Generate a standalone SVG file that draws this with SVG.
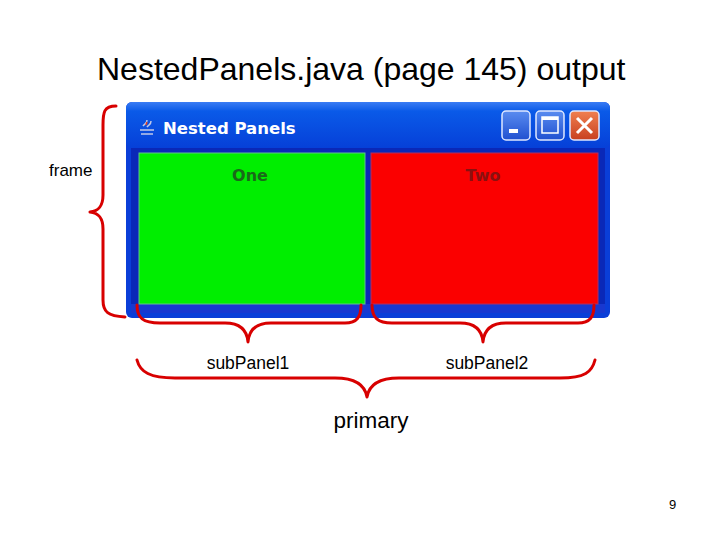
<svg xmlns="http://www.w3.org/2000/svg" width="720" height="540" viewBox="0 0 720 540">
<style>
.lbl{font-family:"Liberation Sans",Arial,sans-serif;fill:#000}
.brace{fill:none;stroke:#d80000;stroke-width:3;stroke-linecap:round;stroke-linejoin:round}
.btn{stroke:#dfe8ff;stroke-width:1.5}
</style>
<defs>
<linearGradient id="tb" x1="0" y1="0" x2="0" y2="1">
<stop offset="0" stop-color="#3a7cf4"/>
<stop offset="0.2" stop-color="#0a5ae8"/>
<stop offset="1" stop-color="#0640d8"/>
</linearGradient>
<linearGradient id="bb" x1="0" y1="0" x2="0" y2="1">
<stop offset="0" stop-color="#5a8cf0"/>
<stop offset="1" stop-color="#2050d0"/>
</linearGradient>
<linearGradient id="cb" x1="0" y1="0" x2="0" y2="1">
<stop offset="0" stop-color="#f08050"/>
<stop offset="1" stop-color="#c84020"/>
</linearGradient>
</defs>
<rect width="720" height="540" fill="#fff"/>
<text class="lbl" x="97" y="80" font-size="32">NestedPanels.java (page 145) output</text>
<g id="window">
<rect x="126" y="102" width="484" height="216" rx="6" fill="#0a3ed8"/>
<rect x="126" y="102" width="484" height="46" rx="6" fill="url(#tb)"/>
<rect x="131" y="148" width="474" height="165" fill="#0a28b8"/>
<rect x="131" y="304" width="474" height="9" fill="#1838d0"/>
<g id="javaicon" stroke="#c0c8e8" stroke-width="1.5" fill="none">
<path d="M140,130 h14 M141,134 h12 M143,126 c2,-3 4,-2 4,-6 M147,127 c2,-3 4,-2 4,-6"/>
<path d="M146,125 l1,-3" stroke="#e04020"/>
</g>
<text x="163" y="134" font-family="Verdana,'DejaVu Sans',sans-serif" font-weight="bold" font-size="16.5" fill="#fff">Nested Panels</text>
<g id="buttons">
<rect class="btn" x="502" y="111" width="28" height="29" rx="4" fill="url(#bb)"/>
<rect x="509" y="129" width="9" height="4" fill="#fff"/>
<rect class="btn" x="536" y="111" width="28" height="29" rx="4" fill="url(#bb)"/>
<rect x="542" y="117" width="16" height="16" fill="none" stroke="#fff" stroke-width="1.5"/>
<rect x="542" y="117" width="16" height="3" fill="#fff"/>
<rect class="btn" x="570" y="111" width="29" height="29" rx="4" fill="url(#cb)"/>
<path d="M577,118 L592,133 M592,118 L577,133" stroke="#fff" stroke-width="3"/>
</g>
</g>
<g id="subPanel1">
<rect x="139" y="153" width="226" height="151" fill="#00ee00" stroke="#60c090" stroke-width="1"/>
<text x="250" y="181" text-anchor="middle" font-family="Verdana,'DejaVu Sans',sans-serif" font-weight="bold" font-size="16" fill="#1a6a1a">One</text>
</g>
<g id="subPanel2">
<rect x="371" y="153" width="227" height="151" fill="#fb0000" stroke="#b03060" stroke-width="1"/>
<text x="483" y="181" text-anchor="middle" font-family="Verdana,'DejaVu Sans',sans-serif" font-weight="bold" font-size="16" fill="#8a1010">Two</text>
</g>
<g id="connectors">
<path class="brace" d="M116,106 C104,106 103,112 103,125 L103,195 C103,207 98,211 90,212 C98,213 103,217 103,229 L103,300 C103,312 108,316 125,317"/>
<path class="brace" d="M137,305 C137,318 143,323 160,323 L225,323 C240,323 247,330 248,342 C249,330 256,323 271,323 L345,323 C357,323 361,317 361,305"/>
<path class="brace" d="M372,305 C372,318 378,323 392,323 L460,323 C475,323 482,330 483,342 C484,330 491,323 506,323 L578,323 C590,323 594,317 594,305"/>
<path class="brace" d="M137,360 C140,372 150,378 175,378 L335,378 C355,378 365,385 367,397 C369,385 379,378 399,378 L560,378 C585,378 592,372 595,360"/>
</g>
<text class="lbl" x="49" y="176" font-size="17">frame</text>
<text class="lbl" x="248" y="369" font-size="17.5" text-anchor="middle">subPanel1</text>
<text class="lbl" x="487" y="369" font-size="17.5" text-anchor="middle">subPanel2</text>
<text class="lbl" x="371" y="428" font-size="22.5" text-anchor="middle">primary</text>
<text class="lbl" x="669" y="509" font-size="13">9</text>
</svg>
